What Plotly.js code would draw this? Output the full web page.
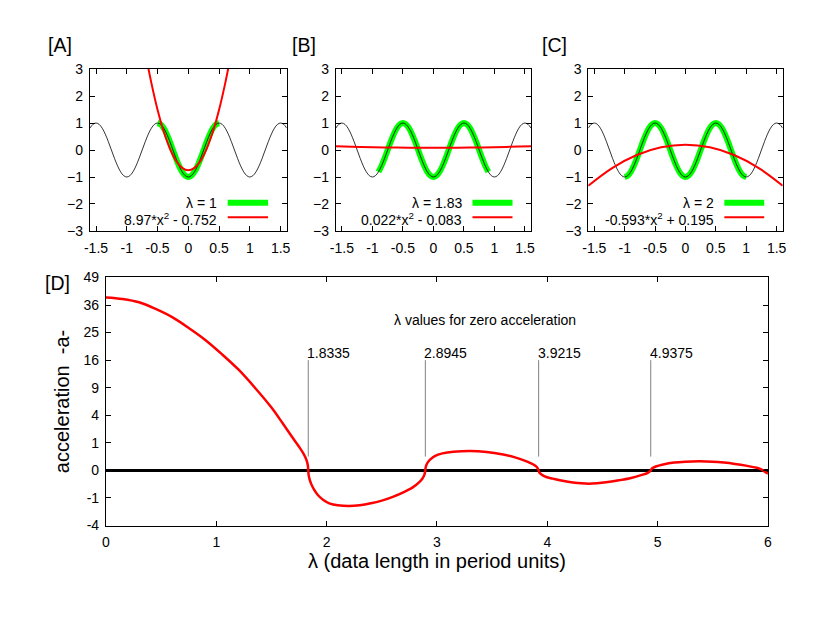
<!DOCTYPE html>
<html>
<head>
<meta charset="utf-8">
<script src="https://cdn.plot.ly/plotly-3.0.1.min.js"></script>
<style>html,body{margin:0;padding:0;background:#fff}</style>
</head>
<body>
<div id="chart" style="width:817px;height:632px"></div>
<script>
// ---- data ----
var cosX = [-1.6,-1.55,-1.5,-1.45,-1.4,-1.35,-1.3,-1.25,-1.2,-1.15,-1.1,-1.05,-1.0,-0.95,-0.9,-0.85,-0.8,-0.75,-0.7,-0.65,-0.6,-0.55,-0.5,-0.45,-0.4,-0.35,-0.3,-0.25,-0.2,-0.15,-0.1,-0.05,0,0.05,0.1,0.15,0.2,0.25,0.3,0.35,0.4,0.45,0.5,0.55,0.6,0.65,0.7,0.75,0.8,0.85,0.9,0.95,1.0,1.05,1.1,1.15,1.2,1.25,1.3,1.35,1.4,1.45,1.5,1.55,1.6];
var cosY = [0.809,0.951,1,0.951,0.809,0.588,0.309,0,-0.309,-0.588,-0.809,-0.951,-1,-0.951,-0.809,-0.588,-0.309,0,0.309,0.588,0.809,0.951,1,0.951,0.809,0.588,0.309,0,-0.309,-0.588,-0.809,-0.951,-1,-0.951,-0.809,-0.588,-0.309,0,0.309,0.588,0.809,0.951,1,0.951,0.809,0.588,0.309,0,-0.309,-0.588,-0.809,-0.951,-1,-0.951,-0.809,-0.588,-0.309,0,0.309,0.588,0.809,0.951,1,0.951,0.809];

var lambdas = [1, 1.83, 2];
var lambdaLabels = ['λ = 1', 'λ = 1.83', 'λ = 2'];
var fitLabels = ['8.97*x<sup>2</sup> - 0.752', '0.022*x<sup>2</sup> - 0.083', '-0.593*x<sup>2</sup> + 0.195'];
var panelLabels = ['[A]', '[B]', '[C]', '[D]'];

var fitAX = [-0.66,-0.6,-0.5,-0.4,-0.3,-0.2,-0.1,0,0.1,0.2,0.3,0.4,0.5,0.6,0.66];
var fitAY = [3.155,2.477,1.49,0.683,0.055,-0.393,-0.662,-0.752,-0.662,-0.393,0.055,0.683,1.49,2.477,3.155];
var fitBX = [-1.6,-1.2,-0.8,-0.4,0,0.4,0.8,1.2,1.6];
var fitBY = [0.14,0.115,0.097,0.087,0.083,0.087,0.097,0.115,0.14];
var fitCX = [-1.6,-1.2,-0.8,-0.4,0,0.4,0.8,1.2,1.6];
var fitCY = [-1.323,-0.659,-0.185,0.1,0.195,0.1,-0.185,-0.659,-1.323];

var lam = [0,0.15,0.3,0.45,0.6,0.75,0.9,1.05,1.2,1.35,1.5,1.6,1.7,1.76,1.79,1.81,1.822,1.83,1.8335,1.837,1.845,1.86,1.885,1.92,1.97,2.03,2.1,2.2,2.3,2.4,2.5,2.6,2.7,2.78,2.84,2.87,2.885,2.8945,2.897,2.902,2.915,2.94,2.98,3.05,3.15,3.3,3.45,3.6,3.7,3.8,3.87,3.905,3.9215,3.925,3.935,3.955,3.99,4.05,4.15,4.25,4.35,4.45,4.55,4.65,4.75,4.85,4.91,4.9375,4.945,4.96,4.99,5.05,5.15,5.25,5.38,5.5,5.6,5.7,5.8,5.88,5.93,5.955,5.98,6.0];
var accel = [39.4,38.7,37.2,34.3,30.9,26.7,22.4,17.8,13.4,9.0,5.2,2.95,1.3,0.64,0.37,0.2,0.1,0.03,0,-0.03,-0.1,-0.24,-0.48,-0.8,-1.15,-1.45,-1.6,-1.67,-1.6,-1.43,-1.2,-0.92,-0.62,-0.38,-0.18,-0.08,-0.03,0,0.01,0.03,0.08,0.16,0.27,0.38,0.46,0.5,0.45,0.33,0.23,0.12,0.05,0.015,0,-0.003,-0.012,-0.03,-0.058,-0.09,-0.15,-0.2,-0.23,-0.22,-0.18,-0.13,-0.08,-0.03,-0.008,0,0.003,0.01,0.022,0.045,0.08,0.1,0.11,0.1,0.08,0.055,0.03,0.012,0.003,0,-0.005,-0.014];

var roots = [1.8335, 2.8945, 3.9215, 4.9375];
var rootLabels = ['1.8335', '2.8945', '3.9215', '4.9375'];
var markerLow = 0.25, markerHigh = 16;

var dTickVals = [-2,-1,0,1,2,3,4,5,6,7];
var dTickText = ['-4','-1','0','1','4','9','16','25','36','49'];

// signed square-root scale used by panel D
function ss(a){ return a < 0 ? -Math.sqrt(-a) : Math.sqrt(a); }

var FONT = 'Liberation Sans, Arial, Helvetica, sans-serif';
var fits = [[fitAX, fitAY], [fitBX, fitBY], [fitCX, fitCY]];
var traces = [];
for (var p = 0; p < 3; p++) {
  var xa = p === 0 ? 'x' : 'x' + (p + 1);
  var ya = p === 0 ? 'y' : 'y' + (p + 1);
  var h = lambdas[p] / 2 + 1e-9;
  var gx = [], gy = [];
  for (var i = 0; i < cosX.length; i++) {
    if (cosX[i] >= -h && cosX[i] <= h) { gx.push(cosX[i]); gy.push(cosY[i]); }
  }
  traces.push({x: gx, y: gy, xaxis: xa, yaxis: ya, mode: 'lines', line: {color: '#00ff00', width: 6, shape: 'spline'}, hoverinfo: 'skip'});
  traces.push({x: cosX, y: cosY, xaxis: xa, yaxis: ya, mode: 'lines', line: {color: '#000000', width: 0.8, shape: 'spline'}, hoverinfo: 'skip'});
  traces.push({x: fits[p][0], y: fits[p][1], xaxis: xa, yaxis: ya, mode: 'lines', line: {color: '#ff0000', width: 2, shape: 'spline'}, hoverinfo: 'skip'});
}
// panel D
var vx = [], vy = [];
roots.forEach(function(r){ vx.push(r, r, null); vy.push(ss(markerLow), ss(markerHigh), null); });
traces.push({x: vx, y: vy, xaxis: 'x4', yaxis: 'y4', mode: 'lines', line: {color: '#808080', width: 1}, hoverinfo: 'skip'});
traces.push({x: lam, y: accel.map(ss), xaxis: 'x4', yaxis: 'y4', mode: 'lines', line: {color: '#ff0000', width: 2.5, shape: 'spline', smoothing: 1}, hoverinfo: 'skip'});

function smallX(dom) {
  return {domain: dom, range: [-1.6, 1.6], tickvals: [-1.5,-1,-0.5,0,0.5,1,1.5], ticktext: ['-1.5','-1','-0.5','0','0.5','1','1.5'],
    showline: true, linecolor: '#000', linewidth: 1, mirror: 'allticks', ticks: 'inside', ticklen: 5, tickcolor: '#000',
    showgrid: false, zeroline: false, tickfont: {size: 14, family: FONT, color: '#000'}, ticklabelstandoff: 4, fixedrange: true};
}
function smallY(anchor) {
  return {domain: [0.6345, 0.8908], range: [-3, 3], tickvals: [-3,-2,-1,0,1,2,3], anchor: anchor,
    showline: true, linecolor: '#000', linewidth: 1, mirror: 'allticks', ticks: 'inside', ticklen: 5, tickcolor: '#000',
    showgrid: false, zeroline: false, tickfont: {size: 14, family: FONT, color: '#000'}, ticklabelstandoff: 3, fixedrange: true};
}

var layout = {
  width: 817, height: 632, margin: {l: 0, r: 0, t: 0, b: 0},
  paper_bgcolor: '#fff', plot_bgcolor: '#fff', showlegend: false,
  font: {family: FONT, color: '#000'},
  xaxis: Object.assign(smallX([0.110, 0.351]), {anchor: 'y'}),
  yaxis: smallY('x'),
  xaxis2: Object.assign(smallX([0.411, 0.650]), {anchor: 'y2'}),
  yaxis2: smallY('x2'),
  xaxis3: Object.assign(smallX([0.720, 0.958]), {anchor: 'y3'}),
  yaxis3: smallY('x3'),
  xaxis4: {domain: [0.1297, 0.940], range: [0, 6], dtick: 1, anchor: 'y4',
    showline: true, linecolor: '#000', linewidth: 1, mirror: 'allticks', ticks: 'inside', ticklen: 5, tickcolor: '#000',
    showgrid: false, zeroline: false, tickfont: {size: 14, family: FONT, color: '#000'}, ticklabelstandoff: 4,
    title: {text: 'λ (data length in period units)', font: {size: 20, family: FONT, color: '#000'}, standoff: 1}, fixedrange: true},
  yaxis4: {domain: [0.1685, 0.561], range: [-2, 7], tickvals: dTickVals, ticktext: dTickText, anchor: 'x4',
    showline: true, linecolor: '#000', linewidth: 1, mirror: 'allticks', ticks: 'inside', ticklen: 5, tickcolor: '#000',
    showgrid: false, zeroline: true, zerolinecolor: '#000', zerolinewidth: 3, tickfont: {size: 14, family: FONT, color: '#000'}, ticklabelstandoff: 3,
    title: {text: 'acceleration\u00a0\u00a0-a-', font: {size: 20, family: FONT, color: '#000'}, standoff: 8}, fixedrange: true},
  annotations: [],
  shapes: []
};

var panelPos = [[0.0734, 0.9288], [0.372, 0.9288], [0.679, 0.9288], [0.0704, 0.5527]];
panelLabels.forEach(function(t, i){
  layout.annotations.push({text: t, xref: 'paper', yref: 'paper', x: panelPos[i][0], y: panelPos[i][1], xanchor: 'center', yanchor: 'middle', showarrow: false, font: {size: 19.5, family: FONT, color: '#000'}});
});
for (var q = 0; q < 3; q++) {
  var xr = q === 0 ? 'x domain' : 'x' + (q + 1) + ' domain';
  var yr = q === 0 ? 'y domain' : 'y' + (q + 1) + ' domain';
  layout.annotations.push({text: lambdaLabels[q], xref: xr, yref: yr, x: 0.655, y: 0.175, xanchor: 'right', yanchor: 'middle', showarrow: false, font: {size: 14, family: FONT, color: '#000'}});
  layout.annotations.push({text: fitLabels[q], xref: xr, yref: yr, x: 0.655, y: 0.075, xanchor: 'right', yanchor: 'middle', showarrow: false, font: {size: 14, family: FONT, color: '#000'}});
  layout.shapes.push({type: 'line', xref: xr, yref: yr, x0: 0.70, x1: 0.905, y0: 0.175, y1: 0.175, line: {color: '#00ff00', width: 6}});
  layout.shapes.push({type: 'line', xref: xr, yref: yr, x0: 0.70, x1: 0.905, y0: 0.085, y1: 0.085, line: {color: '#ff0000', width: 2}});
}
roots.forEach(function(r, i){
  layout.annotations.push({text: rootLabels[i], xref: 'x4', yref: 'y4', x: r, y: ss(markerHigh), xanchor: 'left', yanchor: 'bottom', xshift: -3, yshift: -3, showarrow: false, font: {size: 14, family: FONT, color: '#000'}});
});
layout.annotations.push({text: 'λ values for zero acceleration', xref: 'x4', yref: 'y4', x: 3.435, y: 5.47, xanchor: 'center', yanchor: 'middle', showarrow: false, font: {size: 14, family: FONT, color: '#000'}});

Plotly.newPlot('chart', traces, layout, {displayModeBar: false, staticPlot: true});
</script>
</body>
</html>
